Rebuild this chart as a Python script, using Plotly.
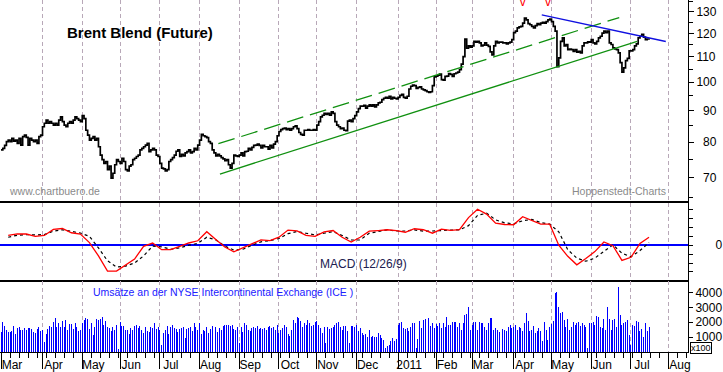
import pandas as pd
import plotly.graph_objects as go
from plotly.subplots import make_subplots

FONT = "Arial, 'Liberation Sans', sans-serif"

# ---------------- daily closes (Brent future), month by month ----------------
close_2010_03 = [77.7, 78.1, 79.0, 80.1, 80.6, 80.1, 81.1, 80.3, 80.6, 79.6, 81.1, 79.1, 81.6, 82.1, 81.4, 79.1, 81.1, 80.6, 80.1, 80.6, 79.6, 81.6, 82.1]
close_2010_04 = [84.7, 85.8, 86.8, 85.8, 86.3, 85.8, 85.2, 85.8, 85.2, 86.8, 87.9, 86.3, 85.2, 84.7, 85.8, 86.3, 85.8, 86.8, 87.9, 87.3, 86.8, 86.3]
close_2010_05 = [88.3, 87.3, 83.6, 82.1, 80.6, 81.1, 81.6, 80.6, 81.1, 78.6, 76.2, 74.9, 73.9, 74.4, 72.2, 73.1, 69.9, 71.2, 73.5, 74.9, 74.4]
close_2010_06 = [73.9, 75.3, 74.4, 72.2, 71.8, 73.1, 73.5, 74.9, 75.3, 75.8, 76.2, 77.7, 78.1, 78.6, 79.1, 79.6, 77.2, 77.7, 78.1, 77.7, 76.2, 75.8]
close_2010_07 = [73.9, 72.6, 72.4, 71.8, 72.2, 74.4, 74.9, 75.5, 76.2, 77.3, 77.7, 75.8, 76.4, 76.0, 76.8, 77.2, 77.7, 76.8, 77.2, 78.1, 77.7, 79.1]
close_2010_08 = [80.6, 82.3, 81.9, 81.6, 81.3, 80.1, 79.6, 77.7, 76.8, 76.0, 76.4, 76.0, 75.5, 75.1, 74.6, 74.9, 73.5, 72.6, 73.9, 76.2, 76.0, 75.8]
close_2010_09 = [76.2, 76.8, 76.0, 77.2, 77.3, 78.1, 77.7, 78.4, 79.0, 79.1, 79.4, 79.0, 78.3, 79.0, 78.6, 78.6, 77.9, 79.0, 78.3, 79.4, 80.1, 81.9]
close_2010_10 = [83.2, 83.8, 84.1, 84.3, 83.8, 84.1, 83.6, 84.1, 84.7, 85.0, 84.1, 82.9, 82.3, 82.1, 83.6, 83.6, 83.8, 83.6, 83.6, 83.8, 83.6]
close_2010_11 = [85.2, 86.3, 87.9, 88.4, 89.0, 88.7, 89.0, 88.4, 89.5, 89.0, 86.3, 85.2, 84.7, 84.1, 84.3, 83.6, 83.5, 86.5, 86.8, 86.3, 87.3, 88.3]
close_2010_12 = [89.5, 90.6, 91.5, 91.5, 91.7, 90.8, 91.5, 91.9, 91.5, 91.9, 91.2, 91.9, 92.6, 92.8, 93.7, 94.2, 94.5, 94.2, 94.9, 94.0, 94.5, 94.2, 94.0]
close_2011_01 = [94.5, 95.2, 95.6, 94.5, 94.2, 94.9, 97.5, 98.5, 98.9, 98.7, 97.7, 98.1, 98.3, 97.5, 97.2, 96.9, 96.5, 96.3, 96.5, 98.7, 102.0]
close_2011_02 = [102.3, 102.7, 103.1, 101.0, 100.8, 102.2, 102.3, 103.3, 103.0, 102.2, 103.2, 103.5, 103.8, 104.8, 107.0, 110.0, 117.5, 113.5, 114.5, 114.0]
close_2011_03 = [114.5, 116.5, 116.1, 116.5, 115.8, 114.5, 114.8, 115.8, 114.8, 114.3, 112.0, 110.7, 114.5, 116.5, 115.8, 116.1, 116.1, 115.8, 115.8, 115.4, 115.8, 116.1, 117.2]
close_2011_04 = [120.3, 121.0, 122.5, 122.9, 123.2, 124.7, 127.0, 126.2, 124.4, 123.9, 123.2, 122.5, 123.5, 124.4, 123.9, 124.7, 125.0, 124.7, 125.4, 126.2, 126.5]
close_2011_05 = [125.4, 123.2, 121.0, 106.0, 109.5, 116.5, 118.0, 114.5, 115.1, 112.9, 113.2, 112.9, 112.2, 112.9, 111.9, 112.2, 111.6, 114.5, 115.8, 115.8, 116.2, 116.1]
close_2011_06 = [117.2, 115.8, 115.4, 116.5, 118.0, 118.7, 120.1, 121.0, 120.3, 121.0, 115.8, 115.1, 113.7, 113.2, 112.9, 111.6, 107.6, 103.8, 105.5, 108.4, 109.3, 112.4]
close_2011_07 = [112.4, 112.9, 114.5, 115.4, 118.0, 118.7, 119.5, 118.3, 117.2, 117.5, 117.2]

# ---------------- daily volume on ICE (in units of 100 contracts) ----------------
vol_2010_03 = [1310, 2040, 1760, 1490, 1310, 1310, 1440, 1760, 1220, 1600, 1710, 1490, 1490, 1600, 1490, 1600, 1600, 1530, 1310, 1270, 1530, 1710, 1440]
vol_2010_04 = [1490, 640, 1220, 1530, 1760, 1670, 2040, 2260, 1710, 1930, 1710, 2110, 1710, 2150, 1490, 1860, 1860, 1530, 1930, 1710, 1380, 1490]
vol_2010_05 = [1930, 2150, 2260, 2200, 1530, 1930, 1150, 1670, 2200, 2150, 2200, 2370, 1820, 2110, 1670, 1600, 1380, 1710, 1490, 1820, 200]
vol_2010_06 = [2040, 1760, 1760, 1490, 1490, 1220, 1600, 1490, 1760, 1820, 1600, 1760, 1490, 1270, 1670, 1440, 1310, 1710, 1600, 1930, 1530, 1710]
vol_2010_07 = [1490, 490, 1270, 1490, 1760, 1220, 1710, 1820, 1600, 1530, 1310, 1530, 1600, 1710, 930, 1530, 1600, 1670, 1380, 1930, 1710, 1490]
vol_2010_08 = [1930, 1220, 1490, 1440, 1710, 1270, 1530, 1760, 1220, 1710, 1310, 1600, 1490, 1760, 1820, 1820, 1820, 1760, 1820, 1530, 1490, 1710]
vol_2010_09 = [600, 1710, 1310, 1980, 1820, 1490, 1380, 1600, 1710, 1600, 1760, 1530, 1600, 1530, 1600, 1490, 1670, 1760, 1600, 1710, 1490, 1820]
vol_2010_10 = [1270, 1490, 1600, 1820, 1670, 1220, 1090, 1490, 2150, 1930, 2370, 2260, 2110, 1710, 1930, 1820, 2150, 1980, 1760, 1820, 2040]
vol_2010_11 = [2110, 1820, 1600, 1270, 1710, 600, 1710, 1530, 1600, 1670, 1820, 1930, 2040, 1710, 1490, 1760, 1760, 1380, 600, 1760, 1760, 1710]
vol_2010_12 = [1820, 1380, 1600, 1270, 1160, 1220, 1040, 1490, 1040, 1090, 1040, 1040, 1270, 1160, 930, 820, 270, 380, 490, 710, 930, 710, 870]
vol_2011_01 = [1820, 1980, 2040, 1600, 1530, 1600, 1440, 1710, 1930, 1930, 270, 870, 2110, 1600, 2150, 2200, 1760, 2260, 1760, 1930, 1600]
vol_2011_02 = [1870, 1760, 1980, 1600, 1980, 1710, 2370, 1820, 1820, 2040, 2000, 2000, 1710, 1930, 1490, 1930, 2470, 2560, 3000, 1490]
vol_2011_03 = [1820, 2040, 2040, 1490, 2040, 1930, 1980, 1710, 1490, 1930, 2260, 2260, 1490, 1600, 1490, 1310, 1530, 1530, 1490, 1380, 1710, 1820, 1600]
vol_2011_04 = [1710, 1820, 1490, 1670, 1600, 1440, 1930, 2640, 2090, 1380, 1490, 1760, 1270, 1380, 1600, 1380, 710, 2000, 1490, 820, 1710]
vol_2011_05 = [1870, 2110, 3930, 4040, 3000, 2600, 2710, 2150, 1710, 2200, 1490, 1710, 2040, 1820, 1930, 2040, 1760, 1980, 1820, 1710, 270, 1930]
vol_2011_06 = [1930, 2040, 1820, 2420, 2380, 1710, 1600, 2200, 1490, 3000, 2200, 1490, 2150, 2200, 1710, 4380, 2490, 1820, 1930, 2040, 2150, 1160]
vol_2011_07 = [490, 1820, 1760, 2110, 2040, 1440, 1530, 1040, 1930, 1380, 1710]

# ---------------- MACD (12/26/9), read weekly (Fridays) ----------------
macd_line = [1.1, 1.28, 1.26, 1.0, 1.1, 1.78, 1.88, 1.4, 1.26, 0.3, -1.2, -2.9, -2.9, -2.2, -1.55, -0.12,
             0.24, -0.5, -0.5, -0.12, 0.25, 0.5, 1.52, 0.65, -0.2, -0.75, -0.3, 0.15, 0.6, 0.52, 0.9, 1.7,
             1.62, 1.1, 1.0, 1.5, 1.65, 0.9, 0.36, 0.89, 1.58, 1.65, 1.74, 1.63, 1.46, 1.85, 1.74, 1.35,
             1.8, 1.66, 1.74, 3.1, 4.05, 3.5, 2.48, 2.33, 2.3, 3.2, 2.75, 2.37, 2.37, 0.0, -1.25, -2.2,
             -1.5, -0.72, 0.36, -0.05, -1.7, -1.36, 0.2, 0.9]
macd_signal = [0.9, 1.12, 1.19, 1.15, 1.2, 1.58, 1.74, 1.58, 1.37, 1.0, -0.3, -1.75, -2.45, -2.35, -2.0, -1.2,
               -0.1, -0.18, -0.45, -0.3, 0.0, 0.2, 0.9, 0.6, -0.1, -0.55, -0.45, 0.0, 0.38, 0.52, 0.75, 1.3,
               1.54, 1.35, 1.15, 1.35, 1.52, 1.1, 0.59, 0.59, 1.35, 1.54, 1.72, 1.6, 1.6, 1.72, 1.58, 1.6,
               1.68, 1.7, 1.73, 2.2, 3.35, 3.6, 2.85, 2.52, 2.4, 2.75, 2.9, 2.55, 2.37, 1.5, -0.5, -1.45,
               -1.8, -1.45, -0.7, 0.05, -0.9, -1.3, -0.6, 0.3]

# ---------------- trend lines & markers ----------------
support_dates = ["2010-08-17 07:00", "2011-07-06 10:00"]
support_vals = [71.0, 116.5]
channel_dates = ["2010-08-16 10:00", "2011-06-22 12:00"]
channel_vals = [79.5, 127.3]
resist_dates = ["2011-04-22 14:00", "2011-07-28 07:00"]
resist_vals = [128.6, 116.4]
top_dates = ["2011-04-08", "2011-04-28"]
top_vals = [134.3, 134.3]

# ---------------- axis ticks ----------------
month_ticks = pd.date_range("2010-03-01", "2011-08-05", freq="BMS")  # first trading day of each month
month_labels = ["Mar", "Apr", "May", "Jun", "Jul", "Aug", "Sep", "Oct", "Nov", "Dec",
                "2011", "Feb", "Mar", "Apr", "May", "Jun", "Jul", "Aug"]
price_ticks = [70, 80, 90, 100, 110, 120, 130]
price_labels = ["\u00a0\u00a070", "\u00a0\u00a080", "\u00a0\u00a090", "100", "110", "120", "130"]
price_minor = [65, 75, 85, 95, 105, 115, 125, 135]
macd_ticks = [-3, -2, -1, 0, 1, 2, 3, 4]
macd_labels = ["", "", "", "\u00a0\u00a0\u00a0\u00a0\u00a0\u00a00", "", "", "", ""]
vol_ticks = [1000, 2000, 3000, 4000]
vol_labels = ["1000", "2000", "3000", "4000"]

close = sum([close_2010_03, close_2010_04, close_2010_05, close_2010_06, close_2010_07, close_2010_08,
             close_2010_09, close_2010_10, close_2010_11, close_2010_12, close_2011_01, close_2011_02,
             close_2011_03, close_2011_04, close_2011_05, close_2011_06, close_2011_07], [])
volume = sum([vol_2010_03, vol_2010_04, vol_2010_05, vol_2010_06, vol_2010_07, vol_2010_08,
              vol_2010_09, vol_2010_10, vol_2010_11, vol_2010_12, vol_2011_01, vol_2011_02,
              vol_2011_03, vol_2011_04, vol_2011_05, vol_2011_06, vol_2011_07], [])
days = pd.bdate_range("2010-03-01", periods=len(close))
vol_days = pd.bdate_range("2010-03-01", periods=len(volume))
weeks = pd.date_range("2010-03-05", periods=len(macd_line), freq="W-FRI")

H_PLOT = 356.0
def py(px):
    return 1 - px / H_PLOT

fig = make_subplots(rows=3, cols=1, shared_xaxes=True, vertical_spacing=0)

fig.add_trace(go.Scatter(x=days, y=close, mode="lines", line=dict(color="black", width=1.7, shape="hv"),
                         hoverinfo="skip", showlegend=False), row=1, col=1)
fig.add_trace(go.Scatter(x=support_dates, y=support_vals, mode="lines", line=dict(color="#109010", width=1.3),
                         showlegend=False), row=1, col=1)
fig.add_trace(go.Scatter(x=channel_dates, y=channel_vals, mode="lines",
                         line=dict(color="#109010", width=1.3, dash="17px,7px"), showlegend=False), row=1, col=1)
fig.add_trace(go.Scatter(x=resist_dates, y=resist_vals, mode="lines", line=dict(color="#1010e0", width=1.3),
                         showlegend=False), row=1, col=1)
fig.add_trace(go.Scatter(x=top_dates, y=top_vals, mode="text", text=["v", "v"],
                         textfont=dict(color="#ff0000", size=12, family=FONT), cliponaxis=True,
                         showlegend=False), row=1, col=1)

fig.add_trace(go.Scatter(x=weeks, y=macd_signal, mode="lines", line=dict(color="black", width=1.2, dash="3px,3px"),
                         showlegend=False), row=2, col=1)
fig.add_trace(go.Scatter(x=weeks, y=macd_line, mode="lines", line=dict(color="#ff0000", width=1.3),
                         showlegend=False), row=2, col=1)

fig.add_trace(go.Bar(x=vol_days, y=volume, marker=dict(color="#0000ff", line=dict(width=0)),
                     width=0.55 * 86400000, showlegend=False), row=3, col=1)

x_range = ["2010-02-26 10:40", "2011-08-15 14:24"]
grid = dict(showgrid=True, gridcolor="#b8a8b8", griddash="4px,3px", gridwidth=1,
            tickmode="array", tickvals=month_ticks, ticktext=month_labels,
            rangebreaks=[dict(bounds=["sat", "mon"])], range=x_range, zeroline=False)
fig.update_xaxes(**grid)
fig.update_xaxes(showticklabels=False, ticks="", showline=False, row=1, col=1)
fig.update_xaxes(showticklabels=False, ticks="", showline=True, mirror=True, linecolor="black", linewidth=1.2,
                 row=2, col=1)
fig.update_xaxes(showticklabels=True, ticks="outside", ticklen=16, tickcolor="black", tickwidth=1,
                 showline=True, mirror=True, linecolor="black", linewidth=1.2,
                 ticklabelshift=11, ticklabelstandoff=-15,
                 tickfont=dict(family=FONT, size=12, color="black"),
                 minor=dict(ticks="outside", ticklen=5, tickcolor="black", dtick=7 * 86400000,
                            tick0="2010-03-01", showgrid=False),
                 row=3, col=1)

axis_common = dict(side="right", showline=True, linecolor="black", linewidth=1, showgrid=False,
                   ticks="outside", tickcolor="black", tickfont=dict(family=FONT, size=12, color="black"))
fig.update_yaxes(type="log", range=[1.8048, 2.1332], tickmode="array", tickvals=price_ticks,
                 ticktext=price_labels, ticklen=5, zeroline=False,
                 minor=dict(tickmode="array", tickvals=price_minor, ticks="outside", ticklen=4, tickcolor="black"),
                 **axis_common, row=1, col=1)
fig.update_yaxes(range=[-4.0, 4.78], tickmode="array", tickvals=macd_ticks, ticktext=macd_labels, ticklen=4,
                 zeroline=True, zerolinecolor="#0000ff", zerolinewidth=1.5, **axis_common, row=2, col=1)
fig.update_yaxes(range=[0, 4780], tickmode="array", tickvals=vol_ticks, ticktext=vol_labels, ticklen=4,
                 zeroline=False, **axis_common, row=3, col=1)

fig.update_layout(
    width=723, height=372, margin=dict(l=0, r=35, t=0, b=16, pad=0),
    paper_bgcolor="white", plot_bgcolor="white", bargap=0,
    font=dict(family=FONT, size=12, color="black"),
    yaxis=dict(domain=[py(205), 1]),
    yaxis2=dict(domain=[py(284), py(205)]),
    yaxis3=dict(domain=[0, py(284)]),
    annotations=[
        dict(text="<b>Brent Blend (Future)</b>", xref="paper", yref="paper", x=140 / 688, y=py(32.5),
             xanchor="center", yanchor="middle",
             showarrow=False, font=dict(family=FONT, size=15, color="black")),
        dict(text="www.chartbuero.de", xref="paper", yref="paper", x=7 / 688, y=py(193),
             xanchor="left", yanchor="middle",
             showarrow=False, font=dict(family=FONT, size=10.5, color="#8a8a8a")),
        dict(text="Hoppenstedt-Charts", xref="paper", yref="paper", x=668 / 688, y=py(193),
             xanchor="right", yanchor="middle",
             showarrow=False, font=dict(family=FONT, size=10.5, color="#8a8a8a")),
        dict(text="MACD (12/26/9)", xref="paper", yref="paper", x=318 / 688, y=py(267),
             xanchor="left", yanchor="middle",
             showarrow=False, font=dict(family=FONT, size=12, color="#202050")),
        dict(text="Umsätze an der NYSE Intercontinental Exchange (ICE )", xref="paper", yref="paper",
             x=91 / 688, y=py(295), xanchor="left", yanchor="middle", showarrow=False,
             font=dict(family=FONT, size=10.5, color="#2020ff")),
        dict(text="x100", xref="paper", yref="paper", x=690 / 688, y=py(351.5), xanchor="left",
             yanchor="middle", showarrow=False, bordercolor="black", borderwidth=1, borderpad=0,
             bgcolor="white", font=dict(family=FONT, size=9, color="black")),
    ],
)

fig.write_html("out.html", config={"displayModeBar": False, "staticPlot": True},
               post_script="document.body.style.margin='0';")
